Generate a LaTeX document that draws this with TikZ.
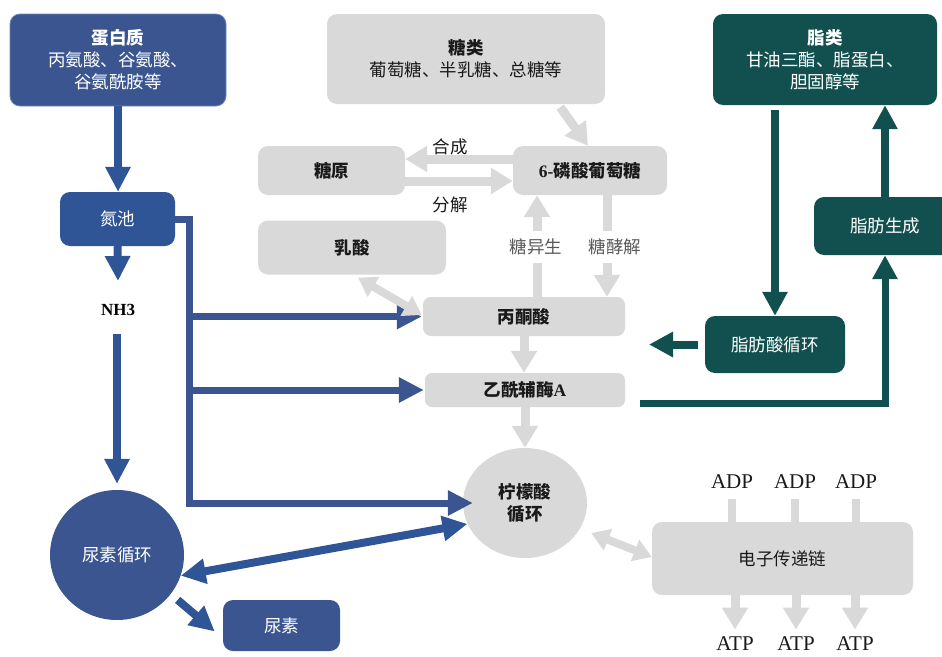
\documentclass[tikz,border=0pt]{standalone}
\usepackage{fontspec}
\setmainfont{Liberation Serif}
\newfontfamily\cjk{Noto Sans CJK SC}
\usetikzlibrary{arrows.meta,shapes.geometric,calc}
\definecolor{bluea}{HTML}{3A5590}
\definecolor{blueb}{HTML}{2F5597}
\definecolor{grayf}{HTML}{D9D9D9}
\definecolor{tealg}{HTML}{12504F}
\definecolor{labgray}{HTML}{595959}
\definecolor{txtdark}{HTML}{1A1A1A}
\begin{document}
\begin{tikzpicture}[x=1pt,y=-1pt,
  box/.style={rectangle, rounded corners=10pt, inner sep=2pt, align=center,
    font=\cjk\fontsize{17.5}{22}\selectfont},
  bluebox/.style={box, fill=bluea, text=white},
  bluebox2/.style={box, fill=blueb, text=white},
  graybox/.style={box, fill=grayf, text=txtdark},
  greenbox/.style={box, fill=tealg, text=white},
  lbl/.style={font=\cjk\fontsize{17.5}{20}\selectfont, text=txtdark, inner sep=1pt},
  glbl/.style={font=\cjk\fontsize{17.5}{20}\selectfont, text=labgray, inner sep=1pt},
  num/.style={font=\fontsize{21}{24}\selectfont, text=txtdark},
  btip/.tip={Triangle[width=24pt,length=25pt]},
  gtip/.tip={Triangle[width=25pt,length=22pt]},
  gdtip/.tip={Triangle[width=22pt,length=18pt]},
  ttip/.tip={Triangle[width=24pt,length=24pt]},
  barrow/.style={draw=blueb, line width=8pt, -btip},
  bline/.style={draw=bluea, line width=7pt, line join=miter, -btip},
  bdarrow/.style={draw=blueb, line width=8pt, btip-btip},
  garrow/.style={draw=grayf, line width=9pt, -gtip},
  gdarrow/.style={draw=grayf, line width=8pt, gdtip-gdtip},
  gstem/.style={draw=grayf, line width=8pt},
  tarrow/.style={draw=tealg, line width=8pt, -ttip},
  tline/.style={draw=tealg, line width=7pt, line join=miter, -ttip}
]
\useasboundingbox (0,0) rectangle (942,656);

% ---------- blue (protein) ----------
\node[bluebox, draw=blueb!70!white, line width=0.8pt, minimum width=216pt, minimum height=92pt] (pro) at (118,60)
  {{\bfseries 蛋白质}\\丙氨酸、谷氨酸、\\谷氨酰胺等};
\node[bluebox2, minimum width=115pt, minimum height=54pt] (np) at (117.5,219) {氮池};
\node[font=\bfseries\fontsize{17}{20}\selectfont, text=black] (nh3) at (118,310) {NH3};
\coordinate (nh3top) at (118,281);
\coordinate (nh3bot) at (117,334);
\node[ellipse, fill=bluea, text=white, minimum width=134pt, minimum height=130pt, inner sep=0pt,
  font=\cjk\fontsize{17.5}{22}\selectfont] (uc) at (117,555) {尿素循环};
\node[bluebox, minimum width=117pt, minimum height=51pt] (ur) at (281.5,625.5) {尿素};

% ---------- gray (sugar) ----------
\node[graybox, minimum width=278pt, minimum height=90pt] (sug) at (466,59)
  {{\bfseries 糖类}\\葡萄糖、半乳糖、总糖等};
\node[graybox, minimum width=147pt, minimum height=49pt] (gly) at (331.5,170.5) {\bfseries 糖原};
\node[graybox, minimum width=154pt, minimum height=49pt] (g6p) at (590,170.5)
  {\bfseries{\rmfamily 6-}磷酸葡萄糖};
\node[graybox, minimum width=188pt, minimum height=54pt] (lac) at (352,247.5) {\bfseries 乳酸};
\node[graybox, rounded corners=8pt, minimum width=202pt, minimum height=39pt] (pyr) at (524,316.5) {\bfseries 丙酮酸};
\node[graybox, rounded corners=7pt, minimum width=200pt, minimum height=34pt] (aca) at (525,390)
  {\bfseries 乙酰辅酶{\rmfamily A}};
\node[ellipse, fill=grayf, text=txtdark, minimum width=124pt, minimum height=110pt, inner sep=0pt, align=center,
  font=\cjk\bfseries\fontsize{17.5}{22}\selectfont] (cit) at (525,503) {柠檬酸\\循环};
\node[graybox, minimum width=261pt, minimum height=73pt] (etc) at (782.5,558.5) {电子传递链};

% ---------- green (lipid) ----------
\node[greenbox, minimum width=224pt, minimum height=91pt] (lip) at (825,59.5)
  {{\bfseries 脂类}\\甘油三酯、脂蛋白、\\胆固醇等};
\node[greenbox, minimum width=140pt, minimum height=57pt] (fac) at (775,344.5) {脂肪酸循环};
\node[greenbox, minimum width=142pt, minimum height=58pt] (fg) at (885,226) {脂肪生成};
\coordinate (facout) at (649,344.5);

% ---------- ADP / ATP ----------
\foreach \i/\x in {1/732,2/795,3/856}{
  \node[num] (adp\i) at (\x,482) {ADP};
  \draw[gstem] ([yshift=-7pt]adp\i.south) -- (adp\i |- etc.north);
}
\foreach \i/\x in {1/735,2/796,3/855}{
  \node[num] (atp\i) at (\x,644) {ATP};
  \draw[garrow] (etc.south -| atp\i) -- ([yshift=4pt]atp\i.north);
}

% ---------- blue connectors ----------
\draw[barrow] (pro.south) -- (pro.south |- np.north);
\draw[barrow] (np.south) -- (nh3top);
\draw[barrow, shorten >=6pt] (nh3bot) -- (nh3bot |- uc.north);
\coordinate (jn) at (189,503);
\draw[bline] (np.east) -| (jn) -- ([xshift=10pt]cit.west);
\draw[bline] (jn |- pyr.west) -- ([xshift=-1pt]pyr.west);
\draw[bline] (jn |- aca.west) -- ([xshift=-1pt]aca.west);
\draw[bdarrow] (uc.-18) -- (cit.200);
\draw[barrow, shorten <=9pt] (uc.-36) -- ([xshift=-8pt,yshift=-6pt]ur.west);

% ---------- gray connectors ----------
\draw[garrow] ([xshift=-45pt,yshift=-3pt]sug.south east) -- ([xshift=-2pt]g6p.north);
\draw[garrow] ([yshift=11.5pt]g6p.west) -- ([yshift=11.5pt]gly.east);
\draw[garrow] ([yshift=-10.5pt]gly.east) -- ([yshift=-10.5pt]g6p.west);
\node[lbl] (hc) at (450,147) {合成};
\node[lbl] (fj) at (450,205) {分解};
\draw[gdarrow] ([xshift=6pt,yshift=-3pt]lac.south) -- ([xshift=-1pt,yshift=1.5pt]pyr.west);
\draw[garrow] ([xshift=13pt]pyr.north) -- ([xshift=-53pt]g6p.south);
\draw[garrow] ([xshift=17pt]g6p.south) -- ([xshift=83pt]pyr.north);
\fill[white] (497,231) rectangle (655,263);
\node[glbl] (tys) at (536,247) {糖异生};
\node[glbl] (tjj) at (615,247) {糖酵解};
\draw[garrow] (pyr.south) -- (pyr.south |- aca.north);
\draw[garrow] (aca.south) -- (cit.north);
\draw[gdarrow, shorten <=12pt] (cit.-25) -- ([yshift=1.5pt]etc.west);

% ---------- green connectors ----------
\draw[tarrow] ($(lip.south -| fac.north)+(0,5)$) -- (fac.north);
\draw[tarrow] (fg.north) -- (fg.north |- lip.south);
\draw[tarrow] ([xshift=-7pt]fac.west) -- (facout);
\draw[tline] ([xshift=15pt,yshift=-13pt]aca.east) -| (fg.south);
\end{tikzpicture}
\end{document}
